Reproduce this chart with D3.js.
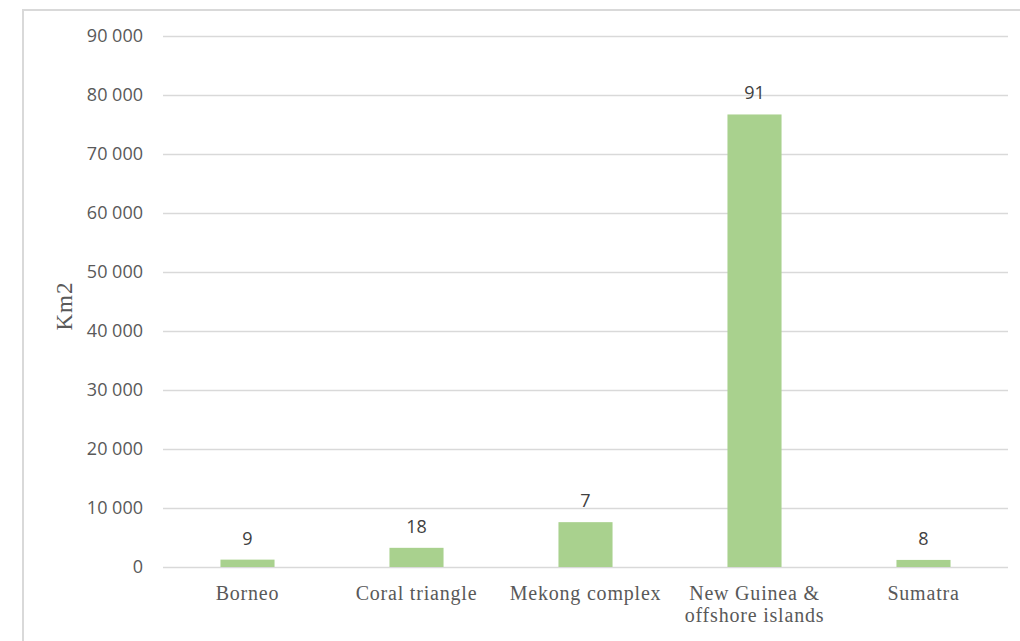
<!DOCTYPE html>
<html>
<head>
<meta charset="utf-8">
<script src="https://cdn.jsdelivr.net/npm/d3@7"></script>
<style>
  html, body { margin: 0; padding: 0; background: #ffffff; }
  svg { display: block; }
</style>
</head>
<body>
<svg id="chart" width="1020" height="641"></svg>
<script>
// Protected area per region (km²) and the number of sites labelled above each bar
const categories = ["Borneo", "Coral triangle", "Mekong complex", "New Guinea & offshore islands", "Sumatra"];
const areaKm2 = [1250, 3250, 7600, 76700, 1200];
const siteCounts = [9, 18, 7, 91, 8];
const yTicks = [0, 10000, 20000, 30000, 40000, 50000, 60000, 70000, 80000, 90000];
const yLabel = "Km2";

const svg = d3.select("#chart");
const W = 1020, H = 641;
const plot = { left: 163, right: 1008, top: 36, bottom: 567 };

svg.append("rect").attr("width", W).attr("height", H).attr("fill", "#ffffff");

// chart frame (top and left edges visible)
svg.append("path")
  .attr("d", `M23,${H} L23,10 L${W},10`)
  .attr("fill", "none")
  .attr("stroke", "#d9d9d9")
  .attr("stroke-width", 2);

const x = d3.scaleBand()
  .domain(categories)
  .range([plot.left, plot.right])
  .paddingInner(0.68)
  .paddingOuter(0.34);

const y = d3.scaleLinear()
  .domain([0, 90000])
  .range([plot.bottom, plot.top]);

const locale = d3.formatLocale({ decimal: ",", thousands: " ", grouping: [3], currency: ["", ""] });
const fmt = locale.format(",d");

// y axis with gridlines
const yAxis = d3.axisLeft(y)
  .tickValues(yTicks)
  .tickFormat(fmt)
  .tickSizeInner(-(plot.right - plot.left))
  .tickSizeOuter(0)
  .tickPadding(20);

const gy = svg.append("g")
  .attr("transform", `translate(${plot.left},0)`)
  .call(yAxis);
gy.select(".domain").remove();
gy.selectAll(".tick line")
  .attr("stroke", "#d9d9d9")
  .attr("stroke-width", 1.6);
gy.selectAll(".tick text")
  .attr("fill", "#595959")
  .style("font-family", "'Open Sans', sans-serif")
  .style("font-size", "18px");

// bars
svg.append("g")
  .selectAll("rect")
  .data(categories)
  .join("rect")
  .attr("x", d => x(d))
  .attr("width", x.bandwidth())
  .attr("y", (d, i) => y(areaKm2[i]))
  .attr("height", (d, i) => y(0) - y(areaKm2[i]))
  .attr("fill", "#a9d18e");

// count labels above bars
svg.append("g")
  .selectAll("text")
  .data(categories)
  .join("text")
  .attr("x", d => x(d) + x.bandwidth() / 2)
  .attr("y", (d, i) => y(areaKm2[i]) - 15)
  .attr("text-anchor", "middle")
  .attr("fill", "#404040")
  .style("font-family", "'Open Sans', sans-serif")
  .style("font-size", "18px")
  .text((d, i) => siteCounts[i]);

// x axis category labels, wrapped to the band step
const xAxis = d3.axisBottom(x).tickSize(0).tickPadding(0);
const gx = svg.append("g")
  .attr("transform", `translate(0,${plot.bottom})`)
  .call(xAxis);
gx.select(".domain").remove();
gx.selectAll(".tick text")
  .attr("fill", "#595959")
  .attr("dy", null)
  .attr("y", 33)
  .style("font-family", "'Liberation Serif', 'Times New Roman', serif")
  .style("font-size", "20px")
  .style("letter-spacing", "0.8px")
  .each(function () {
    const t = d3.select(this);
    const words = t.text().split(/\s+/);
    const maxW = x.step() - 8;
    t.text(null);
    let line = [];
    let tspan = t.append("tspan").attr("x", 0).attr("dy", 0);
    for (const w of words) {
      line.push(w);
      tspan.text(line.join(" "));
      if (tspan.node().getComputedTextLength() > maxW && line.length > 1) {
        line.pop();
        tspan.text(line.join(" "));
        line = [w];
        tspan = t.append("tspan").attr("x", 0).attr("dy", "22px").text(w);
      }
    }
  });

// y axis title
svg.append("text")
  .attr("transform", `translate(72,306) rotate(-90)`)
  .attr("text-anchor", "middle")
  .attr("fill", "#595959")
  .style("font-family", "'Liberation Serif', 'Times New Roman', serif")
  .style("font-size", "23px")
  .style("letter-spacing", "1px")
  .text(yLabel);
</script>
</body>
</html>
